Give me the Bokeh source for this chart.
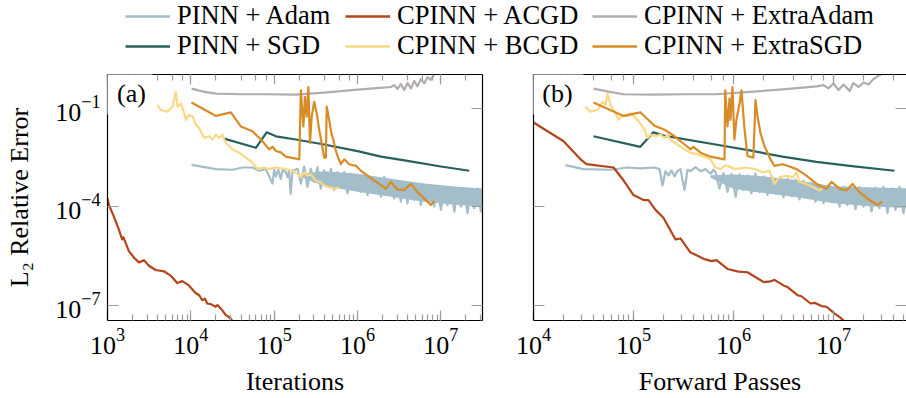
from bokeh.plotting import figure
from bokeh.layouts import column, row
from bokeh.models import (LogAxis, FixedTicker, LogTicker, LogTickFormatter, Label,
                          Legend, LegendItem, Range1d, BoxAnnotation, CustomJSTickFormatter)
from bokeh.embed import file_html
from bokeh.resources import INLINE

FONT = "Liberation Serif"
TICK = "#9c9c9c"

LABELS = ["PINN + Adam", "PINN + SGD", "CPINN + ACGD", "CPINN + BCGD",
          "CPINN + ExtraAdam", "CPINN + ExtraSGD"]
COLORS = ["#a3bec9", "#26615b", "#b4441b", "#fbd982", "#b2acaa", "#d98b26"]

# ---------------- panel (a): iterations ----------------
it_adam_x = [1.02e4, 2.0e4, 3.16e4, 4.17e4, 5.5e4, 6.61e4, 7.94e4, 9.55e4, 1.0e5, 1.05e5,
             1.12e5, 1.2e5, 1.26e5, 1.38e5, 1.45e5, 1.51e5, 1.58e5, 1.66e5, 1.78e5,
             1.91e5, 2.09e5, 2.29e5, 2.51e5, 2.75e5, 3.02e5, 3.31e5, 3.63e5, 3.98e5, 4.37e5,
             4.79e5, 5.25e5, 5.75e5, 6.31e5, 6.92e5, 7.59e5, 8.32e5, 9.12e5, 1.0e6, 1.1e6,
             1.2e6, 1.32e6, 1.45e6, 1.58e6, 1.74e6, 1.91e6, 2.09e6, 2.29e6, 2.51e6, 2.75e6,
             3.02e6, 3.31e6, 3.63e6, 3.98e6, 4.37e6, 4.79e6, 5.25e6, 5.75e6, 6.31e6, 6.92e6,
             7.59e6, 8.32e6, 9.12e6, 1.0e7, 1.1e7, 1.2e7, 1.32e7, 1.45e7, 1.58e7, 1.74e7,
             1.91e7, 2.09e7, 2.29e7, 2.51e7, 2.75e7, 3.02e7, 3.31e7]
it_adam_y = [1.86e-3, 1.38e-3, 1.32e-3, 1.55e-3, 1.55e-3, 1.23e-3, 1.38e-3, 5.0e-4, 1.32e-3, 8.32e-4,
             1.32e-3, 6.92e-4, 1.32e-3, 1.12e-3, 7.94e-4, 1.2e-3, 2.45e-4, 1.26e-3, 1.32e-3,
             1.41e-3, 5.01e-4, 1.66e-3, 3.98e-4, 1.41e-3, 5.62e-4, 1.58e-3, 3.55e-4, 1.26e-3, 4.47e-4,
             1.41e-3, 3.16e-4, 1.12e-3, 3.98e-4, 1.12e-3, 2.51e-4, 1.0e-3, 3.55e-4, 8.91e-4, 2.82e-4,
             8.91e-4, 2.24e-4, 7.94e-4, 2.82e-4, 7.08e-4, 2.0e-4, 7.94e-4, 2.51e-4, 6.31e-4, 1.78e-4,
             5.62e-4, 1.41e-4, 5.01e-4, 1.26e-4, 5.01e-4, 1.58e-4, 4.47e-4, 1.12e-4, 4.47e-4, 1.41e-4,
             3.98e-4, 1.0e-4, 3.98e-4, 7.94e-5, 3.55e-4, 1.12e-4, 3.98e-4, 7.08e-5, 3.16e-4, 1.0e-4,
             3.55e-4, 6.31e-5, 3.16e-4, 8.91e-5, 3.55e-4, 7.08e-5, 2.82e-4]
# dense core of the PINN + Adam noise band (iterations)
it_band_x = [2.09e5, 3.98e5, 1.0e6, 2.51e6, 6.31e6, 1.58e7, 3.31e7]
it_band_hi = [1.0e-3, 1.2e-3, 1.0e-3, 7.08e-4, 5.01e-4, 3.98e-4, 3.55e-4]
it_band_lo = [8.0e-4, 4.2e-4, 2.82e-4, 2.0e-4, 1.41e-4, 1.12e-4, 1.0e-4]

it_sgd_x = [2.51e4, 6.03e4, 8.13e4, 1.05e5, 1.82e5, 3.98e5, 1.0e6, 1.91e6, 3.98e6, 1.0e7, 2.19e7]
it_sgd_y = [0.0117, 0.00617, 0.0182, 0.0138, 0.011, 0.00776, 0.0049, 0.00331, 0.00245, 0.00166, 0.00123]

it_acgd_x = [1.0e3, 1.04e3, 1.19e3, 1.37e3, 1.5e3, 1.55e3, 1.62e3, 1.8e3, 2.07e3, 2.38e3,
             2.74e3, 3.14e3, 3.78e3, 4.75e3, 5.71e3, 6.87e3, 7.89e3, 9.48e3, 1.14e4, 1.26e4,
             1.37e4, 1.48e4, 1.57e4, 1.74e4, 1.98e4, 2.09e4, 2.28e4, 2.45e4, 2.61e4, 2.82e4,
             3.02e4, 3.29e4]
it_acgd_y = [1.78e-4, 1.12e-4, 5.01e-5, 2.0e-5, 1.0e-5, 1.17e-5, 8.91e-6, 4.47e-6, 2.82e-6, 2.0e-6,
             2.34e-6, 1.58e-6, 1.17e-6, 1.07e-6, 7.94e-7, 4.68e-7, 5.37e-7, 3.98e-7, 2.34e-7, 2.0e-7,
             1.41e-7, 1.58e-7, 1.12e-7, 1.07e-7, 8.91e-8, 1.0e-7, 7.94e-8, 6.31e-8, 5.01e-8, 4.47e-8,
             3.8e-8, 2.82e-8]

it_bcgd_x = [3.98e3, 4.37e3, 5.25e3, 6.03e3, 6.61e3, 6.92e3, 7.59e3, 8.32e3, 8.71e3, 9.55e3,
             1.05e4, 1.15e4, 1.26e4, 1.45e4, 1.66e4, 1.82e4, 2.0e4, 2.19e4, 2.4e4, 2.51e4,
             2.75e4, 3.16e4, 3.8e4, 4.57e4, 5.5e4, 6.31e4, 7.24e4, 8.71e4, 1.05e5, 1.38e5,
             1.66e5, 1.91e5, 2.09e5, 2.29e5, 2.51e5, 2.75e5, 3.16e5, 3.63e5, 3.98e5, 4.57e5,
             5.25e5, 6.03e5]
it_bcgd_y = [0.123, 0.0871, 0.0776, 0.11, 0.309, 0.11, 0.138, 0.0692, 0.0437, 0.0617,
             0.055, 0.0309, 0.0245, 0.0123, 0.0138, 0.011, 0.0155, 0.0123, 0.0155, 0.011,
             0.00776, 0.0055, 0.00437, 0.00309, 0.00219, 0.00138, 0.00155, 0.00138, 0.00155, 0.00138,
             0.00123, 9.77e-4, 7.76e-4, 0.0011, 8.71e-4, 9.77e-4, 6.17e-4, 5.5e-4, 4.37e-4, 3.89e-4,
             3.47e-4, 3.89e-4]

it_exadam_x = [1.02e4, 1.41e4, 2.0e4, 3.98e4, 7.94e4, 1.82e5, 3.98e5, 1.0e6, 1.58e6, 2.51e6,
               2.75e6, 3.02e6, 3.31e6, 3.63e6, 3.98e6, 4.37e6, 4.79e6, 5.25e6, 5.75e6, 6.31e6,
               6.92e6, 7.59e6, 8.32e6, 1.0e7]
it_exadam_y = [0.389, 0.316, 0.275, 0.263, 0.263, 0.257, 0.295, 0.363, 0.398, 0.437,
               0.50, 0.38, 0.537, 0.355, 0.575, 0.398, 0.66, 0.457, 0.759, 0.562,
               0.871, 0.724, 1.07, 1.32]

it_exsgd_x = [1.02e4, 2.0e4, 3.02e4, 3.98e4, 5.5e4, 7.24e4, 8.71e4, 9.55e4, 1.05e5, 1.2e5,
              1.38e5, 1.82e5, 2.0e5, 2.09e5, 2.24e5, 2.34e5, 2.45e5, 2.57e5, 2.69e5, 2.82e5,
              3.02e5, 3.24e5, 3.47e5, 3.8e5, 3.98e5, 4.17e5, 4.27e5, 4.57e5, 4.9e5, 5.13e5,
              5.37e5, 5.75e5, 6.31e5, 6.92e5, 7.94e5, 9.55e5, 1.1e6, 1.32e6, 1.58e6, 1.82e6,
              2.19e6, 2.51e6, 3.02e6, 3.63e6, 4.37e6, 5.25e6, 6.31e6, 7.59e6, 8.32e6]
it_exsgd_y = [0.148, 0.0575, 0.0741, 0.0275, 0.0195, 0.00977, 0.0055, 0.0066, 0.0049, 0.00447,
              0.00331, 0.00288, 0.00275, 0.347, 0.0275, 0.219, 0.055, 0.437, 0.0087, 0.055,
              0.155, 0.0692, 0.0219, 0.00617, 0.00309, 0.00309, 0.11, 0.0437, 0.0155, 0.011,
              0.00617, 0.00347, 0.00195, 0.00275, 0.00195, 0.00174, 0.00123, 8.7e-4, 6.17e-4, 4.9e-4,
              3.47e-4, 5.62e-4, 3.31e-4, 3.16e-4, 4.9e-4, 2.75e-4, 1.78e-4, 1.12e-4, 1.48e-4]

# ---------------- panel (b): forward passes ----------------
fp_adam_x = [2.09e4, 3.16e4, 5.89e4, 8.71e4, 1.17e5, 1.62e5, 1.82e5, 1.95e5, 2.09e5, 2.24e5,
             2.4e5, 2.57e5, 2.75e5, 2.95e5, 3.24e5, 3.47e5, 3.72e5, 4.17e5, 4.68e5, 5.25e5,
             5.89e5, 6.31e5,
             6.61e5, 7.24e5, 7.94e5, 8.71e5, 9.55e5, 1.05e6, 1.15e6, 1.26e6, 1.38e6, 1.51e6,
             1.66e6, 1.82e6, 2.0e6, 2.19e6, 2.4e6, 2.63e6, 2.88e6, 3.16e6, 3.47e6, 3.8e6,
             4.17e6, 4.57e6, 5.01e6, 5.5e6, 6.03e6, 6.61e6, 7.24e6, 7.94e6, 8.71e6, 9.55e6,
             1.05e7, 1.15e7, 1.26e7, 1.38e7, 1.51e7, 1.66e7, 1.82e7, 2.0e7, 2.19e7, 2.4e7,
             2.63e7, 2.88e7, 3.16e7, 3.47e7, 3.8e7, 4.17e7, 4.57e7, 5.01e7, 5.5e7, 6.03e7]
fp_adam_y = [1.82e-3, 1.38e-3, 1.32e-3, 1.55e-3, 1.45e-3, 1.55e-3, 1.38e-3, 4.37e-4, 1.2e-3, 8.91e-4,
             1.26e-3, 8.32e-4, 1.2e-3, 1.38e-3, 3.16e-4, 1.32e-3, 1.2e-3, 1.58e-3, 1.2e-3, 1.38e-3,
             1.0e-3, 1.32e-3,
             1.12e-3, 3.55e-4, 1.05e-3, 2.82e-4, 1.0e-3, 2.0e-4, 9.55e-4, 3.16e-4, 8.91e-4, 2.51e-4,
             1.0e-3, 2.82e-4, 8.32e-4, 2.24e-4, 7.94e-4, 2.51e-4, 7.59e-4, 1.91e-4, 7.08e-4, 2.09e-4,
             6.61e-4, 1.66e-4, 6.03e-4, 1.91e-4, 5.25e-4, 1.41e-4, 4.47e-4, 1.26e-4, 4.37e-4, 1.41e-4,
             3.98e-4, 1.0e-4, 3.98e-4, 1.12e-4, 3.8e-4, 8.32e-5, 3.98e-4, 1.0e-4, 3.55e-4, 7.08e-5,
             3.8e-4, 8.91e-5, 3.98e-4, 6.31e-5, 3.55e-4, 7.94e-5, 3.98e-4, 6.31e-5, 3.55e-4, 7.59e-5]
# dense core of the PINN + Adam noise band (forward passes)
fp_band_x = [5.89e5, 1.0e6, 1.58e6, 3.98e6, 1.0e7, 2.51e7, 6.03e7]
fp_band_hi = [9.0e-4, 9.5e-4, 8.91e-4, 6.61e-4, 4.17e-4, 3.8e-4, 3.55e-4]
fp_band_lo = [7.5e-4, 3.5e-4, 2.82e-4, 2.0e-4, 1.26e-4, 1.0e-4, 8.91e-5]

fp_sgd_x = [3.98e4, 1.17e5, 1.58e5, 2.0e5, 6.61e5, 1.45e6, 3.09e6, 6.76e6, 1.45e7, 4.07e7]
fp_sgd_y = [0.0138, 0.0066, 0.0182, 0.0145, 0.00776, 0.00513, 0.00331, 0.00229, 0.00174, 0.00123]

fp_acgd_x = [1.0e4, 2.0e4, 2.95e4, 3.39e4, 6.31e4, 7.94e4, 1.0e5, 1.26e5, 1.41e5, 1.66e5,
             2.0e5, 2.63e5, 2.95e5, 3.72e5, 4.07e5, 5.13e5, 6.03e5, 6.76e5, 8.71e5, 1.12e6,
             1.38e6, 2.0e6, 2.34e6, 2.57e6, 3.16e6, 3.47e6, 4.37e6, 4.79e6, 5.89e6, 6.46e6,
             7.59e6, 8.51e6, 9.33e6, 1.02e7, 1.17e7, 1.29e7]
fp_acgd_y = [0.0363, 0.00977, 0.00275, 0.00195, 0.00155, 6.31e-4, 2.24e-4, 1.58e-4, 1.58e-4, 7.94e-5,
             4.47e-5, 1.0e-5, 1.07e-5, 3.98e-6, 3.55e-6, 2.51e-6, 2.19e-6, 2.34e-6, 1.26e-6, 1.05e-6,
             1.0e-6, 5.01e-7, 5.25e-7, 5.89e-7, 3.98e-7, 3.55e-7, 2.0e-7, 1.86e-7, 1.12e-7, 1.17e-7,
             9.33e-8, 8.91e-8, 7.08e-8, 5.62e-8, 4.17e-8, 3.16e-8]

fp_bcgd_x = [3.31e4, 3.72e4, 4.37e4, 4.9e4, 5.25e4, 5.5e4, 5.89e4, 6.61e4, 7.08e4, 7.76e4,
             8.71e4, 9.33e4, 1.1e5, 1.29e5, 1.38e5, 1.48e5, 1.66e5, 1.86e5, 2.04e5, 2.19e5,
             2.34e5, 2.75e5, 3.24e5, 3.72e5, 4.37e5, 5.13e5, 5.89e5, 6.61e5, 7.41e5, 8.32e5,
             1.05e6, 1.32e6, 1.66e6, 1.95e6, 2.29e6, 2.57e6, 2.88e6, 3.39e6, 3.89e6, 4.27e6,
             4.57e6, 5.37e6, 6.17e6, 7.24e6, 7.76e6]
fp_bcgd_y = [0.11, 0.0776, 0.0871, 0.155, 0.123, 0.275, 0.123, 0.0692, 0.0437, 0.0617,
             0.055, 0.0692, 0.0437, 0.0219, 0.0123, 0.0155, 0.0138, 0.0155, 0.0123, 0.0155,
             0.011, 0.00776, 0.0055, 0.00437, 0.00389, 0.00331, 0.00275, 0.00155, 0.00138, 0.00182,
             0.00138, 0.00155, 0.00138, 0.0011, 0.00123, 4.9e-4, 7.76e-4, 8.71e-4, 7.76e-4, 0.0011,
             5.62e-4, 4.9e-4, 3.98e-4, 3.16e-4, 3.47e-4]

fp_exadam_x = [3.98e4, 5.62e4, 7.94e4, 1.58e5, 3.16e5, 6.61e5, 1.45e6, 3.09e6, 6.76e6, 7.94e6,
               8.91e6, 1.0e7, 1.12e7, 1.26e7, 1.45e7, 1.58e7, 1.78e7, 2.0e7, 2.24e7, 2.51e7,
               2.88e7, 3.55e7]
fp_exadam_y = [0.389, 0.316, 0.263, 0.257, 0.263, 0.263, 0.309, 0.372, 0.457, 0.501,
               0.398, 0.562, 0.355, 0.525, 0.331, 0.575, 0.44, 0.60, 0.52, 0.76,
               1.0, 1.41]

fp_exsgd_x = [3.98e4, 7.94e4, 1.17e5, 1.62e5, 2.04e5, 2.57e5, 3.24e5, 3.72e5, 3.98e5, 4.68e5,
              5.89e5, 7.41e5, 8.13e5, 8.26e5, 8.71e5, 9.12e5, 9.33e5, 9.77e5, 1.02e6, 1.07e6,
              1.15e6, 1.2e6, 1.29e6, 1.38e6, 1.58e6, 1.66e6, 1.74e6, 1.86e6, 2.04e6, 2.19e6,
              2.34e6, 2.57e6, 3.09e6, 3.63e6, 4.27e6, 5.37e6, 6.76e6, 8.51e6, 9.55e6, 1.15e7,
              1.35e7, 1.55e7, 1.82e7, 2.29e7, 2.75e7, 3.09e7]
fp_exsgd_y = [0.148, 0.0575, 0.0741, 0.0288, 0.0219, 0.0138, 0.00776, 0.0055, 0.0066, 0.00437,
              0.00331, 0.00288, 0.00275, 0.347, 0.0275, 0.195, 0.0437, 0.437, 0.011, 0.0437,
              0.138, 0.347, 0.0219, 0.00347, 0.00309, 0.174, 0.055, 0.0174, 0.00692, 0.00437,
              0.00275, 0.00174, 0.00195, 0.00166, 0.00138, 8.71e-4, 4.9e-4, 3.47e-4, 5.62e-4, 3.47e-4,
              3.16e-4, 4.9e-4, 2.75e-4, 1.58e-4, 1.12e-4, 1.41e-4]

Y_TICKS = [1e-7, 1e-4, 1e-1]
Y_RANGE = (3.4e-8, 1.05)


def style_axis(ax, show_labels):
    ax.major_tick_in = 10
    ax.major_tick_out = 0
    ax.minor_tick_in = 6
    ax.minor_tick_out = 0
    ax.major_tick_line_color = TICK
    ax.minor_tick_line_color = TICK
    ax.major_tick_line_width = 1.2
    ax.minor_tick_line_width = 1.2
    ax.axis_line_color = "black"
    ax.axis_line_width = 1.2
    ax.major_label_text_font = FONT
    ax.major_label_text_color = "black"
    if show_labels:
        ax.major_label_text_font_size = "26px"
        ax.major_label_standoff = 8
    else:
        ax.formatter = CustomJSTickFormatter(code="return ''")
        ax.major_label_text_font_size = "1px"
        ax.major_label_standoff = 0
    ax.axis_label_text_font = FONT
    ax.axis_label_text_font_style = "normal"
    ax.axis_label_text_font_size = "26px"
    ax.axis_label_text_color = "black"


def make_panel(width, x_range, bl, br, series, band, xlabel, tag, show_y, box_right, right_line):
    p = figure(width=width, height=336, x_axis_type="log", y_axis_type="log",
               x_range=Range1d(*x_range), y_range=Range1d(*Y_RANGE),
               min_border_left=bl, min_border_right=br, min_border_top=12,
               min_border_bottom=74, output_backend="svg", toolbar_location=None)
    p.grid.visible = False
    p.outline_line_color = None
    p.background_fill_color = "white"
    p.border_fill_color = "white"

    xa = p.xaxis[0]
    style_axis(xa, True)
    xa.axis_label = xlabel
    xa.axis_label_standoff = 10

    ya = p.yaxis[0]
    ya.ticker = FixedTicker(ticks=Y_TICKS, minor_ticks=[])
    if show_y:
        ya.formatter = LogTickFormatter()
    style_axis(ya, show_y)
    ya.major_tick_in = 11
    if show_y:
        ya.axis_label = "L\u2082 Relative Error"
        ya.axis_label_standoff = 18
        ya.major_label_standoff = 7

    top = LogAxis(ticker=LogTicker())
    style_axis(top, False)
    p.add_layout(top, "above")

    right = LogAxis(ticker=FixedTicker(ticks=Y_TICKS, minor_ticks=[]))
    style_axis(right, False)
    right.major_tick_in = 11
    if not right_line:
        right.axis_line_color = None
    p.add_layout(right, "right")

    bx, bhi, blo = band
    p.varea(x=bx, y1=blo, y2=bhi, fill_color=COLORS[0], fill_alpha=1.0)
    for (xs, ys), color in zip(series, COLORS):
        p.line(xs, ys, line_color=color, line_width=2.2, line_join="round")

    box = BoxAnnotation(left=-6, right=box_right, bottom=206, top=262,
                        left_units="screen", right_units="screen",
                        bottom_units="screen", top_units="screen",
                        fill_color="white", fill_alpha=1.0, line_color=None,
                        level="overlay")
    p.add_layout(box)
    p.add_layout(Label(x=24, y=227, x_units="screen", y_units="screen", text=tag,
                       text_font=FONT, text_font_size="26px", text_align="center",
                       text_baseline="middle", text_color="black", level="overlay"))
    return p


series_a = [(it_adam_x, it_adam_y), (it_sgd_x, it_sgd_y), (it_acgd_x, it_acgd_y),
            (it_bcgd_x, it_bcgd_y), (it_exadam_x, it_exadam_y), (it_exsgd_x, it_exsgd_y)]
series_b = [(fp_adam_x, fp_adam_y), (fp_sgd_x, fp_sgd_y), (fp_acgd_x, fp_acgd_y),
            (fp_bcgd_x, fp_bcgd_y), (fp_exadam_x, fp_exadam_y), (fp_exsgd_x, fp_exsgd_y)]

fa = make_panel(507, (1e3, 3.16e7), 107, 25, series_a, (it_band_x, it_band_hi, it_band_lo),
                "Iterations", "(a)", True, 45, True)
fb = make_panel(399, (1e4, 5.37e7), 26, 0, series_b, (fp_band_x, fp_band_hi, fp_band_lo),
                "Forward Passes", "(b)", False, 50, False)

# ---------------- legend strip ----------------
lg = figure(width=906, height=62, x_axis_type=None, y_axis_type=None,
            x_range=Range1d(0, 1), y_range=Range1d(0, 1),
            output_backend="svg", toolbar_location=None, min_border=0)
lg.outline_line_color = None
lg.grid.visible = False
legend_pos = [(125, 31), (125, 1), (345, 31), (345, 1), (592, 31), (592, 1)]
for lab, color, pos in zip(LABELS, COLORS, legend_pos):
    # placeholder renderer (one NaN point) so the legend swatch is drawn
    r = lg.line(x=[float("nan")], y=[float("nan")], line_color=color, line_width=2.5)
    leg = Legend(items=[LegendItem(label=lab, renderers=[r])], location=pos,
                 orientation="horizontal", glyph_width=45, glyph_height=26,
                 label_standoff=7, padding=0, margin=0, spacing=0,
                 border_line_color=None, background_fill_alpha=0,
                 label_text_font=FONT, label_text_font_size="26.5px",
                 label_text_color="black", label_height=26)
    lg.add_layout(leg)

layout = column(lg, row(fa, fb, spacing=0), spacing=0)
open("out.html", "w").write(file_html(layout, INLINE))
